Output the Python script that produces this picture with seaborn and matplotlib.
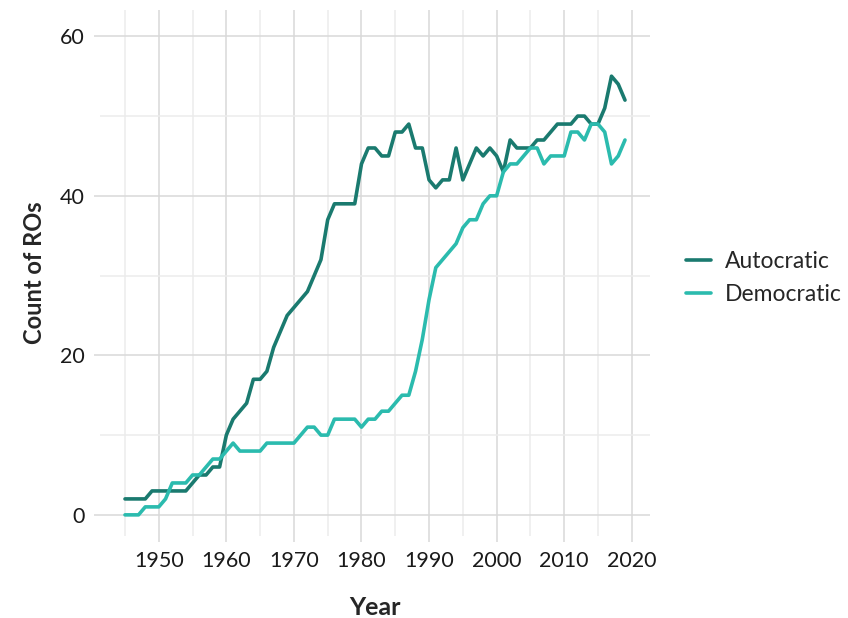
import numpy as np
import pandas as pd
import seaborn as sns
import matplotlib.pyplot as plt
from matplotlib.ticker import FixedLocator

# yearly counts
years = list(range(1945, 2020))
autocratic = [2, 2, 2, 2, 3, 3, 3, 3, 3, 3,
              4, 5, 5, 6, 6, 10, 12, 13, 14, 17,
              17, 18, 21, 23, 25, 26, 27, 28, 30, 32,
              37, 39, 39, 39, 39, 44, 46, 46, 45, 45,
              48, 48, 49, 46, 46, 42, 41, 42, 42, 46,
              42, 44, 46, 45, 46, 45, 43, 47, 46, 46,
              46, 47, 47, 48, 49, 49, 49, 50, 50, 49,
              49, 51, 55, 54, 52]
democratic = [0, 0, 0, 1, 1, 1, 2, 4, 4, 4,
              5, 5, 6, 7, 7, 8, 9, 8, 8, 8,
              8, 9, 9, 9, 9, 9, 10, 11, 11, 10,
              10, 12, 12, 12, 12, 11, 12, 12, 13, 13,
              14, 15, 15, 18, 22, 27, 31, 32, 33, 34,
              36, 37, 37, 39, 40, 40, 43, 44, 44, 45,
              46, 46, 44, 45, 45, 45, 48, 48, 47, 49,
              49, 48, 44, 45, 47]
regimes = ["Autocratic", "Democratic"]
colors = ["#1a7a6f", "#2bbbae"]

df = pd.DataFrame({
    "Year": years * 2,
    "Count": autocratic + democratic,
    "Regime": [regimes[0]] * len(years) + [regimes[1]] * len(years),
})

sns.set_theme(style="white")
plt.rcParams["font.family"] = ["Lato", "DejaVu Sans"]

fig = plt.figure(figsize=(8.48, 6.18), dpi=100)
ax = fig.add_axes([100 / 848, 1 - 536 / 618, 550 / 848, 526 / 618])

sns.lineplot(data=df, x="Year", y="Count", hue="Regime",
             palette=dict(zip(regimes, colors)), linewidth=2.6, ax=ax)

ax.set_xlim(1941.3, 2022.7)
ax.set_ylim(-2.65, 63.3)
ax.xaxis.set_major_locator(FixedLocator(range(1950, 2021, 10)))
ax.xaxis.set_minor_locator(FixedLocator(range(1945, 2020, 10)))
ax.yaxis.set_major_locator(FixedLocator([0, 20, 40, 60]))
ax.yaxis.set_minor_locator(FixedLocator([10, 30, 50]))

ax.grid(which="major", color="#d9d9d9", linewidth=1.1)
ax.grid(which="minor", color="#ececec", linewidth=1.1)
ax.set_axisbelow(True)
for s in ax.spines.values():
    s.set_visible(False)

ax.tick_params(which="major", length=4, width=1.1, color="#d9d9d9",
               labelsize=15.5, pad=7, labelcolor="#1a1a1a")
ax.tick_params(which="minor", length=0)
ax.tick_params(axis="x", which="major", bottom=True)
ax.tick_params(axis="y", which="major", left=True)

ax.set_xlabel("Year", fontsize=18, fontweight="bold", labelpad=18)
ax.set_ylabel("Count of ROs", fontsize=17, fontweight="bold", labelpad=10)

handles, labels = ax.get_legend_handles_labels()
ax.legend(handles, labels, loc="center left", frameon=False,
          bbox_to_anchor=(686 / 848, 1 - 278 / 618),
          bbox_transform=fig.transFigure, fontsize=16.5,
          borderpad=0, borderaxespad=0, handlelength=1.1,
          handletextpad=0.6, labelspacing=0.55, title=None)

fig.savefig("out.png", dpi=100)
